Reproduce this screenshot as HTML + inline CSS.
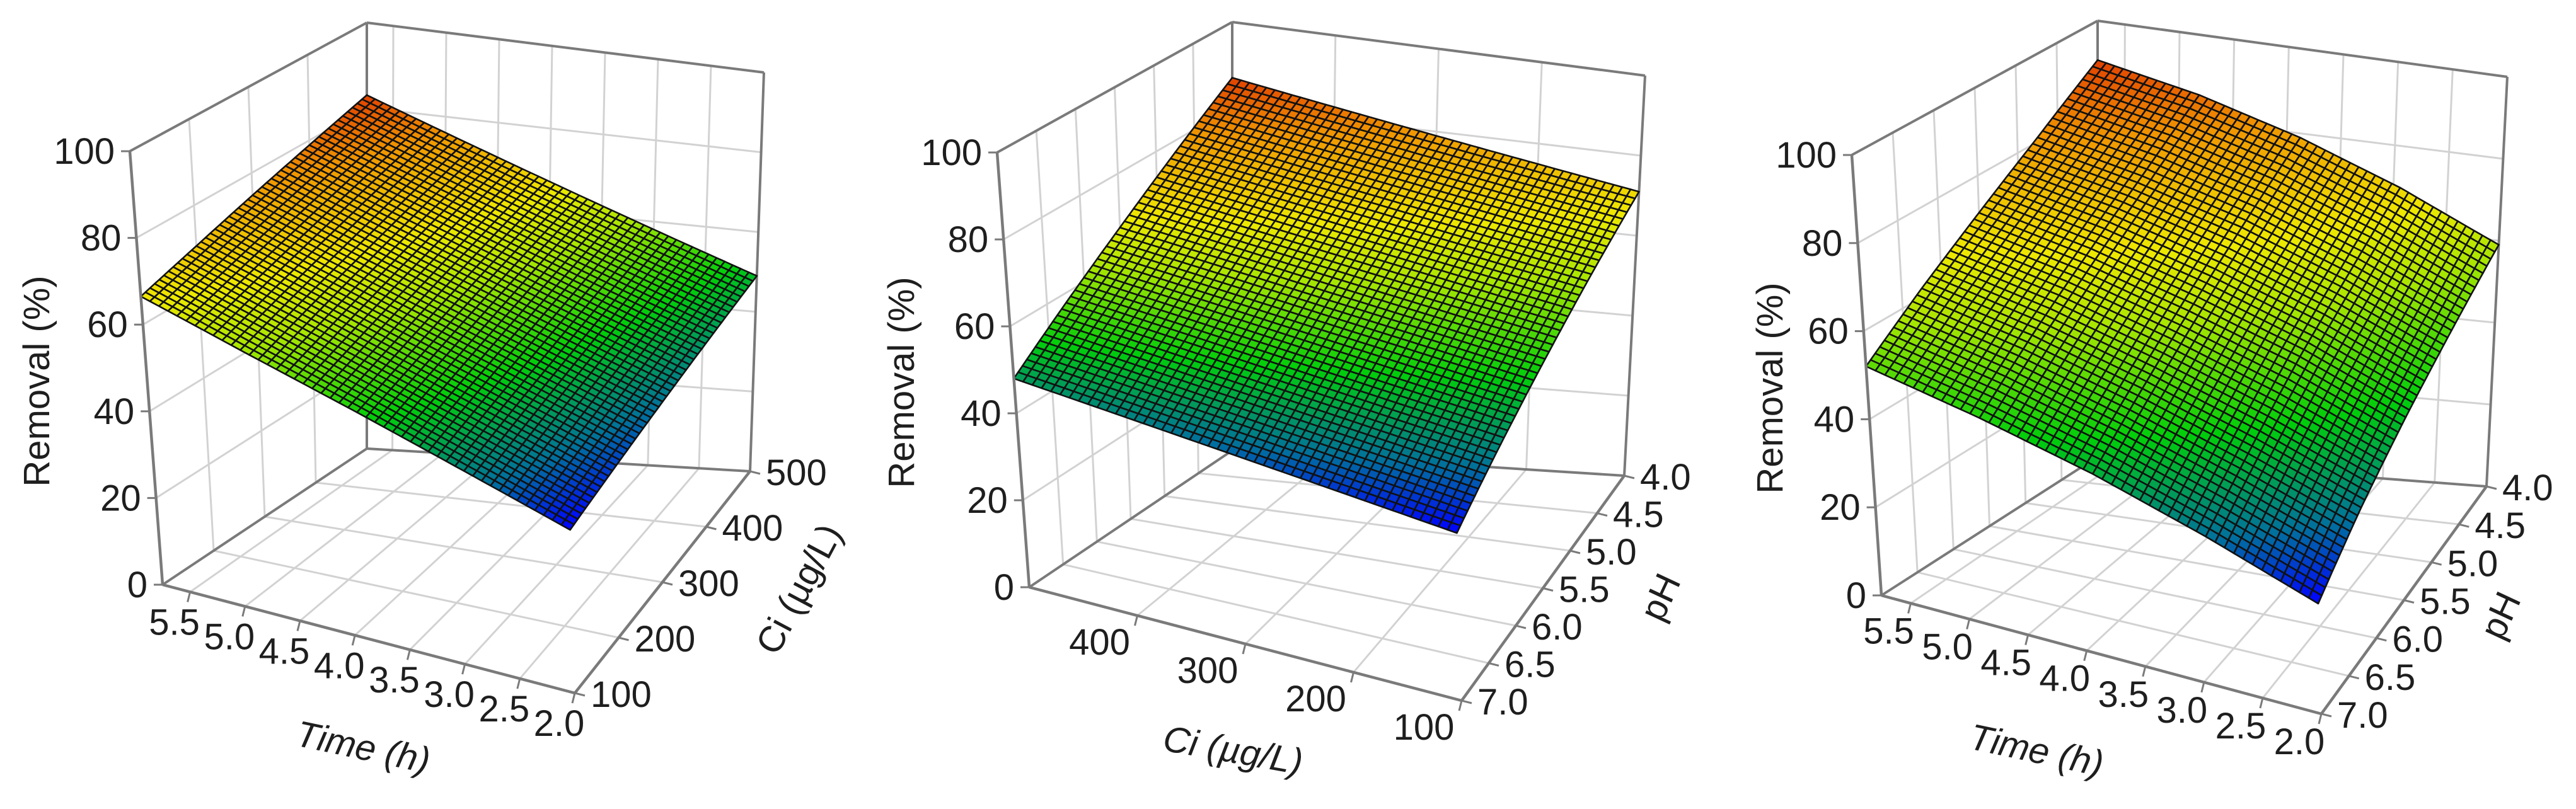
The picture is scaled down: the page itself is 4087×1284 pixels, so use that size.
<!DOCTYPE html>
<html><head><meta charset="utf-8"><style>
html,body{margin:0;padding:0;background:#fff;}
svg{display:block;}
text{font-family:"Liberation Sans",Arial,sans-serif;fill:#1e1e1e;}
</style></head><body>
<svg id="fig" width="4087" height="1284" viewBox="0 0 4087 1284" xmlns="http://www.w3.org/2000/svg"></svg>
<script>
// ---- data (z grids: rows = back-axis index front->back, cols = front-axis index left->right) ----
const zTicks = [0, 20, 40, 60, 80, 100];
const p1TimeTicks = [5.5, 5.0, 4.5, 4.0, 3.5, 3.0, 2.5, 2.0];
const p1CiTicks = [100, 200, 300, 400, 500];
const p1Z = [
  [66.5, 59.0, 51.8, 44.4, 37.0],
  [70.6, 63.0, 55.3, 47.7, 40.0],
  [74.8, 66.8, 58.9, 50.9, 43.0],
  [78.9, 70.7, 62.5, 54.2, 46.0],
  [83.0, 74.5, 66.0, 57.5, 49.0]
];
const p2CiTicks = [400, 300, 200, 100];
const p2PhTicks = [7.0, 6.5, 6.0, 5.5, 5.0, 4.5, 4.0];
const p2Z = [
  [48.0, 45.5, 43.0, 40.5, 38.0],
  [57.8, 54.9, 52.0, 49.1, 46.3],
  [67.5, 64.3, 61.0, 57.8, 54.5],
  [77.3, 73.6, 70.0, 66.4, 62.8],
  [87.0, 83.0, 79.0, 75.0, 71.0]
];
const p3TimeTicks = [5.5, 5.0, 4.5, 4.0, 3.5, 3.0, 2.5, 2.0];
const p3PhTicks = [7.0, 6.5, 6.0, 5.5, 5.0, 4.5, 4.0];
const p3Z = [
  [52.0, 47.0, 41.0, 33.5, 25.0],
  [62.0, 57.0, 50.5, 43.0, 34.5],
  [71.5, 66.5, 60.0, 52.5, 43.0],
  [81.0, 76.0, 69.5, 61.0, 51.0],
  [91.0, 86.0, 79.0, 70.0, 59.0]
];

const NS = "http://www.w3.org/2000/svg";
const svg = document.getElementById('fig');
function mk(tag, attrs, parent){const e=document.createElementNS(NS,tag);for(const k in attrs)e.setAttribute(k,attrs[k]);(parent||svg).appendChild(e);return e;}
function lerp(a,b,t){return [a[0]+(b[0]-a[0])*t,a[1]+(b[1]-a[1])*t];}
function bil(q00,q10,q11,q01,u,v){return lerp(lerp(q00,q10,u),lerp(q01,q11,u),v);}
function P(c,u,v,w){const f=bil(c.A,c.B,c.C,c.D,u,v);const t=bil(c.At,c.Bt,c.Ct,c.Dt,u,v);return [f[0]+(t[0]-f[0])*w,f[1]+(t[1]-f[1])*w];}
function fr(d,x){return (x-d[0])/(d[1]-d[0]);}
const stops=[[0,[0,0,255]],[0.12,[0,110,160]],[0.3,[0,205,10]],[0.5,[170,230,0]],[0.63,[238,232,0]],[0.85,[240,150,0]],[1,[225,65,0]]];
function cmap(t){t=Math.max(0,Math.min(1,t));for(let i=1;i<stops.length;i++){if(t<=stops[i][0]){const a=stops[i-1],b=stops[i];const s=(t-a[0])/(b[0]-a[0]);return 'rgb('+a[1].map((x,k)=>Math.round(x+(b[1][k]-x)*s)).join(',')+')';}}return 'rgb(225,65,0)';}
function zAt(grid,u,v){const n=grid.length-1;const x=u*n,y=v*n;const i=Math.min(n-1,Math.floor(x)),j=Math.min(n-1,Math.floor(y));const s=x-i,t=y-j;
  return grid[j][i]*(1-s)*(1-t)+grid[j][i+1]*s*(1-t)+grid[j+1][i]*(1-s)*t+grid[j+1][i+1]*s*t;}
function pts(a){return a.map(p=>p[0].toFixed(1)+','+p[1].toFixed(1)).join(' ');}

function panel(c){
  const g=mk('g',{});
  
  
  const grid='#d2d2d2', box='#7a7a7a';
  const uf=c.uTicks.map(t=>fr(c.uDom,t)), vf=c.vTicks.map(t=>fr(c.vDom,t));
  const gg=mk('g',{stroke:grid,'stroke-width':3,fill:'none'},g);
  
  
  function L(p,q,par,st,sw){return mk('line',{x1:p[0],y1:p[1],x2:q[0],y2:q[1],stroke:st,'stroke-width':sw},par);}
  uf.forEach(u=>{L(P(c,u,1,0),P(c,u,1,1),gg,grid,3);L(P(c,u,0,0),P(c,u,1,0),gg,grid,3);});
  vf.forEach(v=>{L(P(c,0,v,0),P(c,0,v,1),gg,grid,3);L(P(c,0,v,0),P(c,1,v,0),gg,grid,3);});
  zTicks.slice(1,-1).forEach(z=>{const w=z/100;L(P(c,0,1,w),P(c,1,1,w),gg,grid,3);L(P(c,0,0,w),P(c,0,1,w),gg,grid,3);});
  const bg=mk('g',{},g);
  
  
  [[[0,0,1],[0,1,1]],[[0,1,1],[1,1,1]],[[1,1,0],[1,1,1]],[[0,1,0],[0,1,1]],[[0,0,0],[0,1,0]],[[0,1,0],[1,1,0]]].forEach(e=>L(P(c,...e[0]),P(c,...e[1]),bg,box,4));
  const sg=mk('g',{stroke:'#111','stroke-width':2.6,'stroke-linejoin':'round'},g);
  
  
  let zmin=1e9,zmax=-1e9;c.z.forEach(r=>r.forEach(v=>{zmin=Math.min(zmin,v);zmax=Math.max(zmax,v);}));
  const N=48;
  for(let j=N-1;j>=0;j--){for(let i=0;i<N;i++){
    const u0=i/N,u1=(i+1)/N,v0=j/N,v1=(j+1)/N;
    const q=[[u0,v0],[u1,v0],[u1,v1],[u0,v1]].map(a=>P(c,a[0],a[1],zAt(c.z,a[0],a[1])/100));
    const zm=zAt(c.z,(u0+u1)/2,(v0+v1)/2);
    const poly=mk('polygon',{points:pts(q),fill:cmap((zm-zmin)/(zmax-zmin))},sg);
    
    
  }}
  const ag=mk('g',{},g);
  
  
  L(P(c,0,0,0),P(c,1,0,0),ag,box,4.5);L(P(c,1,0,0),P(c,1,1,0),ag,box,4.5);L(P(c,0,0,0),P(c,0,0,1),ag,box,4.5);
  const fs=58;
  c.uTicks.forEach((t,k)=>{const p=P(c,uf[k],0,0);L(p,[p[0]-4,p[1]+16],ag,box,3);
    const tx=mk('text',{x:p[0]+c.uOff[0],y:p[1]+c.uOff[1],'font-size':fs,'text-anchor':'middle'},ag);tx.textContent=c.uFmt(t);
    
    });
  c.vTicks.forEach((t,k)=>{const p=P(c,1,vf[k],0);L(p,[p[0]+16,p[1]+4],ag,box,3);
    const tx=mk('text',{x:p[0]+c.vOff[0],y:p[1]+c.vOff[1],'font-size':fs,'text-anchor':'start'},ag);tx.textContent=c.vFmt(t);
    
    });
  zTicks.forEach(z=>{const p=P(c,0,0,z/100);L(p,[p[0]-14,p[1]],ag,box,3);
    const tx=mk('text',{x:p[0]-24,y:p[1]+20,'font-size':fs,'text-anchor':'end'},ag);tx.textContent=String(z);
    
    });
  c.titles.forEach(tt=>{const tx=mk('text',{x:0,y:0,'font-size':fs,'text-anchor':'middle','font-style':tt.it?'italic':'normal',transform:'translate('+tt.x+','+tt.y+') rotate('+tt.r+')'},g);
    tx.textContent=tt.s;
    
    });
}
const f1=t=>t.toFixed(1), f0=t=>String(t);
panel({name:'panel-time-ci',A:[258,928],At:[206,240],B:[912,1100],Bt:[892,400],C:[1190,748],Ct:[1212,115],D:[582,712],Dt:[582,36],
  uDom:[5.75,2.0],uTicks:p1TimeTicks,uFmt:f1,uOff:[-25,68],vDom:[100,500],vTicks:p1CiTicks,vFmt:f0,vOff:[25,22],z:p1Z,
  titles:[{s:'Removal (%)',x:78,y:605,r:-90,n:'z-axis-title'},{s:'Time (h)',x:572,y:1205,r:12,it:true,n:'time-axis-title'},{s:'Ci (µg/L)',x:1285,y:944,r:-62,n:'ci-axis-title'}]});
panel({name:'panel-ci-ph',A:[1633,932],At:[1582,242],B:[2319,1112],Bt:[2299,412],C:[2577,755],Ct:[2610,120],D:[1955,715],Dt:[1955,35],
  uDom:[500,100],uTicks:p2CiTicks,uFmt:f0,uOff:[-60,62],vDom:[7,4],vTicks:p2PhTicks,vFmt:f1,vOff:[25,22],z:p2Z,
  titles:[{s:'Removal (%)',x:1450,y:607,r:-90,n:'z-axis-title'},{s:'Ci (µg/L)',x:1953,y:1210,r:10,it:true,n:'ci-axis-title'},{s:'pH',x:2652,y:956,r:-65,n:'ph-axis-title'}]});
panel({name:'panel-time-ph',A:[2985,945],At:[2938,246],B:[3683,1133],Bt:[3663,433],C:[3945,772],Ct:[3978,122],D:[3328,725],Dt:[3328,33],
  uDom:[5.75,2.0],uTicks:p3TimeTicks,uFmt:f1,uOff:[-35,64],vDom:[7,4],vTicks:p3PhTicks,vFmt:f1,vOff:[25,22],z:p3Z,
  titles:[{s:'Removal (%)',x:2828,y:616,r:-90,n:'z-axis-title'},{s:'Time (h)',x:3227,y:1210,r:12,it:true,n:'time-axis-title'},{s:'pH',x:3985,y:985,r:-65,n:'ph-axis-title'}]});
</script>
</body></html>
